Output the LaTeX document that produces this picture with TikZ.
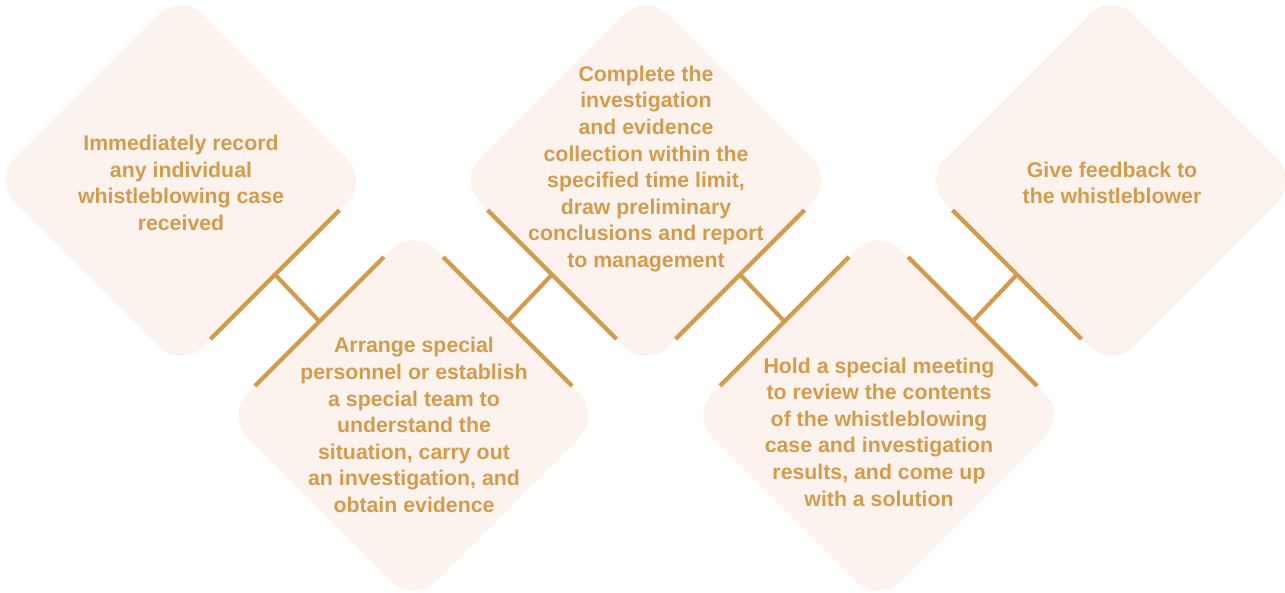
\documentclass[tikz,border=0pt]{standalone}
\usepackage{fontspec}
\setmainfont{Liberation Sans}
\usetikzlibrary{calc}
\definecolor{tan}{HTML}{D49B4D}
\definecolor{blush}{HTML}{FDF3EE}
\begin{document}
\begin{tikzpicture}[x=1pt,y=1pt,
  stage/.style={fill=blush, draw=none, rounded corners=31pt, minimum width=266pt, minimum height=266pt, inner sep=0pt, outer sep=0pt, rotate=45},
  stagetext/.style={text=tan, font=\bfseries\fontsize{21.3}{26.6}\selectfont, align=center, inner sep=0pt},
  link/.style={draw=tan, line width=4.2pt}]
\useasboundingbox (0,0) rectangle (1285,-592);
% stages
\node[stage] (d1) at (181,-180.5) {};
\node[stage] (d2) at (413.5,-415.5) {};
\node[stage] (d3) at (646,-180.5) {};
\node[stage] (d4) at (878.5,-415.5) {};
\node[stage] (d5) at (1111,-180.5) {};
% texts
\node[stagetext] (t1) at (181,-183) {Immediately record\\any individual\\whistleblowing case\\received};
\node[stagetext] (t2) at (414,-425) {Arrange special\\personnel or establish\\a special team to\\understand the\\situation, carry out\\an investigation, and\\obtain evidence};
\node[stagetext] (t3) at (646,-169) {Complete the\\investigation\\and evidence\\collection within the\\specified time limit,\\draw preliminary\\conclusions and report\\to management};
\node[stagetext] (t4) at (879,-432) {Hold a special meeting\\to review the contents\\of the whistleblowing\\case and investigation\\results, and come up\\with a solution};
\node[stagetext] (t5) at (1112,-183) {Give feedback to\\the whistleblower};
% connectors d1-d2
\draw[link] ($(d1.south)+(-64.5,-64.5)$) -- ($(d1.south)+(64.5,64.5)$);
\draw[link] ($(d2.north)+(-64.5,-64.5)$) -- ($(d2.north)+(64.5,64.5)$);
\draw[link] (d1.south) -- (d2.north);
% connectors d2-d3
\draw[link] ($(d2.east)+(-64.5,64.5)$) -- ($(d2.east)+(64.5,-64.5)$);
\draw[link] ($(d3.west)+(-64.5,64.5)$) -- ($(d3.west)+(64.5,-64.5)$);
\draw[link] (d2.east) -- (d3.west);
% connectors d3-d4
\draw[link] ($(d3.south)+(-64.5,-64.5)$) -- ($(d3.south)+(64.5,64.5)$);
\draw[link] ($(d4.north)+(-64.5,-64.5)$) -- ($(d4.north)+(64.5,64.5)$);
\draw[link] (d3.south) -- (d4.north);
% connectors d4-d5
\draw[link] ($(d4.east)+(-64.5,64.5)$) -- ($(d4.east)+(64.5,-64.5)$);
\draw[link] ($(d5.west)+(-64.5,64.5)$) -- ($(d5.west)+(64.5,-64.5)$);
\draw[link] (d4.east) -- (d5.west);
\end{tikzpicture}
\end{document}
